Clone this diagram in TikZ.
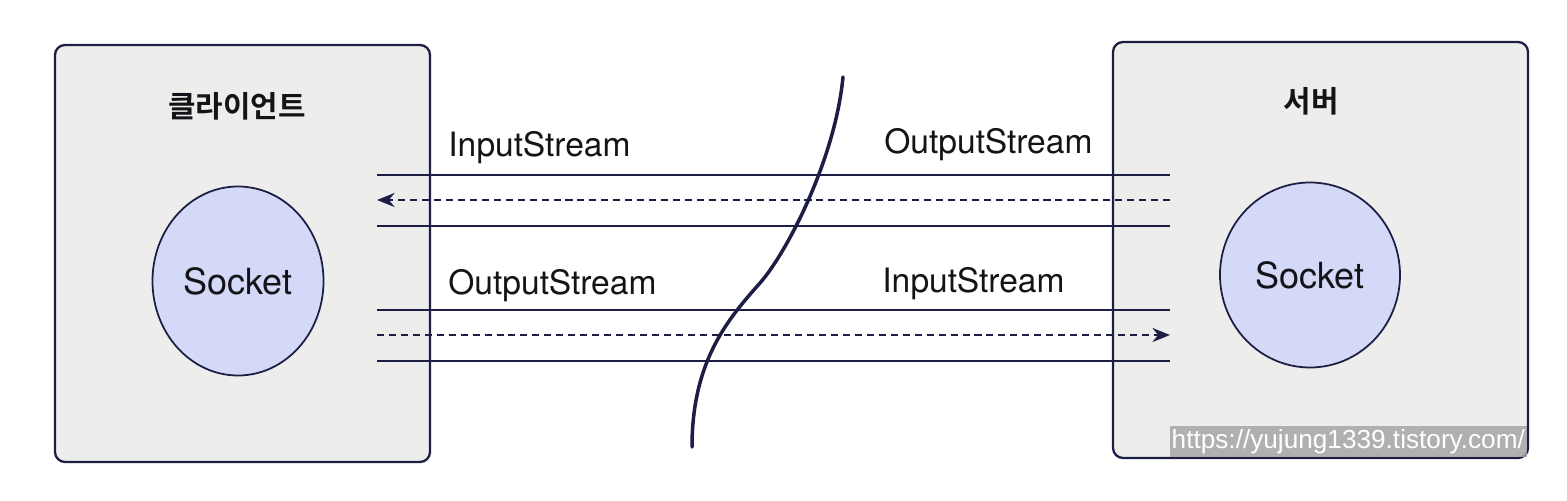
\documentclass[tikz,border=0pt]{standalone}
\usepackage{fontspec}
\setsansfont{TeX Gyre Heros}
\newfontfamily\kr{Noto Sans CJK KR}[BoldFont={Noto Sans CJK KR Bold}]
\newfontfamily\wm{Liberation Sans}
\usepackage{tikz}
\usetikzlibrary{arrows.meta, positioning, shapes.geometric}
\definecolor{navy1}{RGB}{28,30,70}
\definecolor{grey1}{RGB}{237,237,236}
\definecolor{lavender1}{RGB}{212,217,247}
\definecolor{ink1}{RGB}{20,20,24}

\begin{document}
\begin{tikzpicture}[
    host/.style={draw=navy1, fill=grey1, line width=1.3pt, rounded corners=0.2cm},
    socket/.style={ellipse, draw=navy1, fill=lavender1, line width=1pt, text=ink1, font=\sffamily\fontsize{20.5}{24}\selectfont},
    hosttitle/.style={text=ink1, font=\kr\bfseries\fontsize{17}{20}\selectfont},
    streamlabel/.style={anchor=base west, inner sep=0pt, text=ink1, font=\sffamily\fontsize{19.1}{22}\selectfont},
    stream/.style={draw=navy1, line width=1.3pt},
    dataarrow/.style={draw=navy1, line width=1.3pt, dash pattern=on 4pt off 2.8pt, -{Stealth[length=10pt, width=8pt]}},
    cut/.style={draw=navy1, line width=2pt, line cap=round}
]
    \useasboundingbox (0,0) rectangle (31.34,10.02);

    % client and server
    \draw[host] (1.10,0.78) rectangle (8.60,9.12);
    \draw[host] (22.26,0.86) rectangle (30.56,9.18);

    \node[hosttitle, name=client] at (4.74,7.90) {클라이언트};
    \node[hosttitle, name=server] at (26.22,8.00) {서버};

    \node[socket, minimum width=3.34cm, minimum height=3.78cm, name=sockC] at (4.76,4.40) {Socket};
    \node[socket, minimum width=3.60cm, minimum height=3.70cm, name=sockS] at (26.20,4.52) {Socket};

    % streams
    \foreach \y [count=\i] in {6.52,6.02,5.50,3.82,3.32,2.80}
    {
        \coordinate (L\i) at (7.54,\y);
        \coordinate (R\i) at (23.40,\y);
    };
    \foreach \i in {1,3,4,6}
        \draw[stream] (L\i) -- (R\i);
    \draw[dataarrow] (R2) -- (L2);
    \draw[dataarrow] (L5) -- (R5);

    \node[streamlabel, name=inC] at (8.96,6.88) {InputStream};
    \node[streamlabel, name=outS] at (17.68,6.94) {OutputStream};
    \node[streamlabel, name=outC] at (8.96,4.12) {OutputStream};
    \node[streamlabel, name=inS] at (17.64,4.16) {InputStream};

    % network cut
    \draw[cut] (16.86,8.48) .. controls (16.70,6.82) and (15.73,4.96) .. (15.20,4.36)
               .. controls (14.58,3.66) and (13.84,2.82) .. (13.84,1.08);

    \node[fill=gray!70, fill opacity=0.85, text opacity=1, text=white, inner xsep=1pt, inner ysep=2pt,
          anchor=east, font=\wm\fontsize{14.9}{17}\selectfont, name=mark] at (30.54,1.19) {https://yujung1339.tistory.com/};
\end{tikzpicture}
\end{document}
